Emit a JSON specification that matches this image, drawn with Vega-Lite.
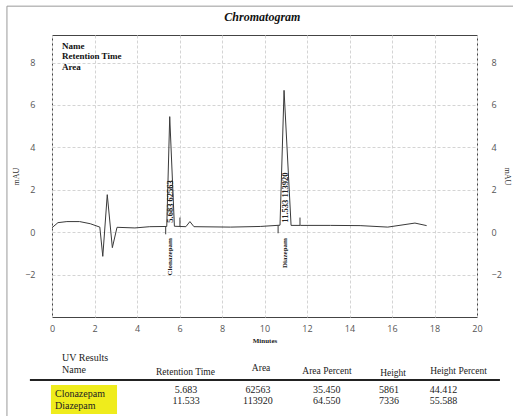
{
  "$schema": "https://vega.github.io/schema/vega-lite/v6.json",
  "width": 425,
  "height": 282,
  "autosize": {"type": "none"},
  "padding": {"left": 52, "top": 35, "right": 36, "bottom": 99},
  "background": "white",
  "config": {"view": {"stroke": "#444444", "strokeWidth": 1}},
  "datasets": {
    "trace": [
      {"t": 0, "mAU": 0.21}, {"t": 0.28, "mAU": 0.45}, {"t": 0.7, "mAU": 0.5}, {"t": 1.3, "mAU": 0.5},
      {"t": 1.8, "mAU": 0.4}, {"t": 2.25, "mAU": 0.24}, {"t": 2.39, "mAU": -1.14}, {"t": 2.6, "mAU": 1.77},
      {"t": 2.84, "mAU": -0.73}, {"t": 3.06, "mAU": 0.23}, {"t": 3.9, "mAU": 0.2}, {"t": 4.6, "mAU": 0.26},
      {"t": 5.4, "mAU": 0.27}, {"t": 5.54, "mAU": 5.45}, {"t": 5.76, "mAU": 0.28}, {"t": 6.3, "mAU": 0.26},
      {"t": 6.49, "mAU": 0.5}, {"t": 6.68, "mAU": 0.26}, {"t": 8.4, "mAU": 0.24}, {"t": 9.8, "mAU": 0.27},
      {"t": 10.73, "mAU": 0.33}, {"t": 10.92, "mAU": 6.69}, {"t": 11.25, "mAU": 0.32}, {"t": 11.7, "mAU": 0.32},
      {"t": 13.1, "mAU": 0.32}, {"t": 14.5, "mAU": 0.31}, {"t": 15.8, "mAU": 0.24}, {"t": 17.08, "mAU": 0.43},
      {"t": 17.63, "mAU": 0.31}
    ],
    "markers": [
      {"t": 5.35, "y1": 0.27, "y2": -0.1},
      {"t": 6.02, "y1": 0.27, "y2": 0.69},
      {"t": 10.64, "y1": 0.33, "y2": -0.05},
      {"t": 11.67, "y1": 0.33, "y2": 0.69}
    ],
    "peaks": [
      {"Name": "Clonazepam", "apex": 5.55, "label": "5.683  62563"},
      {"Name": "Diazepam", "apex": 10.98, "label": "11.533  113920"}
    ],
    "results": [
      {"Name": "Clonazepam", "Retention Time": "5.683", "Area": "62563", "Area Percent": "35.450", "Height": "5861", "Height Percent": "44.412"},
      {"Name": "Diazepam", "Retention Time": "11.533", "Area": "113920", "Area Percent": "64.550", "Height": "7336", "Height Percent": "55.588"}
    ]
  },
  "resolve": {"axis": {"x": "independent", "y": "independent"}},
  "layer": [
    {
      "data": {"values": [{}]},
      "mark": {"type": "rule", "color": "#9a9a9a", "strokeWidth": 1},
      "encoding": {
        "x": {"datum": -2.12, "type": "quantitative", "scale": {"domain": [0, 20], "nice": false, "zero": false}, "axis": null},
        "x2": {"datum": 21.8},
        "y": {"datum": 10.66, "type": "quantitative", "scale": {"domain": [-4, 9.3], "nice": false, "zero": false}, "axis": null}
      }
    },
    {
      "data": {"values": [{}]},
      "mark": {"type": "rule", "color": "#9a9a9a", "strokeWidth": 1},
      "encoding": {
        "x": {"datum": -2.12, "type": "quantitative", "scale": {"domain": [0, 20], "nice": false, "zero": false}, "axis": null},
        "y": {"datum": 10.66, "type": "quantitative", "scale": {"domain": [-4, 9.3], "nice": false, "zero": false}, "axis": null},
        "y2": {"datum": -8.8}
      }
    },
    {
      "data": {"name": "trace"},
      "mark": {"type": "line", "color": "#3a3a3a", "strokeWidth": 1},
      "encoding": {
        "x": {"field": "t", "type": "quantitative", "scale": {"domain": [0, 20], "nice": false, "zero": false},
          "axis": {"title": "Minutes", "values": [0, 2, 4, 6, 8, 10, 12, 14, 16, 18, 20], "grid": true, "gridColor": "#d4d4d4", "gridDash": [3, 2],
            "ticks": false, "tickSize": 0, "domain": false, "labelFont": "Open Sans", "labelFontSize": 9, "labelColor": "#555555",
            "labelPadding": 7, "labelFlush": false, "titleFont": "Liberation Serif", "titleFontSize": 7, "titleFontWeight": "bold",
            "titleColor": "#222222", "titlePadding": 3}},
        "y": {"field": "mAU", "type": "quantitative", "scale": {"domain": [-4, 9.3], "nice": false, "zero": false},
          "axis": {"title": "mAU", "orient": "left", "values": [-2, 0, 2, 4, 6, 8], "grid": true, "gridColor": "#d4d4d4", "gridDash": [3, 2],
            "ticks": false, "tickSize": 0, "domain": false, "labelFont": "Open Sans", "labelFontSize": 9, "labelColor": "#555555",
            "labelPadding": 17, "labelFlush": false, "titleFont": "Liberation Serif", "titleFontSize": 8, "titleFontWeight": "normal",
            "titleColor": "#333333", "titlePadding": 4}}
      }
    },
    {
      "data": {"name": "trace"},
      "mark": {"type": "line", "strokeOpacity": 0},
      "encoding": {
        "x": {"field": "t", "type": "quantitative", "scale": {"domain": [0, 20], "nice": false, "zero": false}, "axis": null},
        "y": {"field": "mAU", "type": "quantitative", "scale": {"domain": [-4, 9.3], "nice": false, "zero": false},
          "axis": {"title": "mAU", "orient": "right", "values": [-2, 0, 2, 4, 6, 8], "grid": false,
            "ticks": false, "tickSize": 0, "domain": false, "labelFont": "Open Sans", "labelFontSize": 9, "labelColor": "#555555",
            "labelPadding": 14, "labelFlush": false, "titleFont": "Liberation Serif", "titleFontSize": 8, "titleFontWeight": "normal",
            "titleColor": "#333333", "titlePadding": 1}}
      }
    },
    {
      "data": {"name": "markers"},
      "mark": {"type": "rule", "color": "#3a3a3a", "strokeWidth": 1},
      "encoding": {
        "x": {"field": "t", "type": "quantitative", "scale": {"domain": [0, 20], "nice": false, "zero": false}, "axis": null},
        "y": {"field": "y1", "type": "quantitative", "scale": {"domain": [-4, 9.3], "nice": false, "zero": false}, "axis": null},
        "y2": {"field": "y2"}
      }
    },
    {
      "data": {"name": "peaks"},
      "mark": {"type": "text", "angle": 270, "align": "left", "baseline": "middle", "font": "Liberation Serif", "fontSize": 8.5, "fontWeight": "bold", "color": "#222222"},
      "encoding": {
        "x": {"field": "apex", "type": "quantitative", "scale": {"domain": [0, 20], "nice": false, "zero": false}, "axis": null},
        "y": {"datum": 0.45, "type": "quantitative", "scale": {"domain": [-4, 9.3], "nice": false, "zero": false}, "axis": null},
        "text": {"field": "label"}
      }
    },
    {
      "data": {"name": "peaks"},
      "mark": {"type": "text", "angle": 270, "align": "right", "baseline": "middle", "font": "Liberation Serif", "fontSize": 7, "fontWeight": "bold", "color": "#222222"},
      "encoding": {
        "x": {"field": "apex", "type": "quantitative", "scale": {"domain": [0, 20], "nice": false, "zero": false}, "axis": null},
        "y": {"datum": -0.28, "type": "quantitative", "scale": {"domain": [-4, 9.3], "nice": false, "zero": false}, "axis": null},
        "text": {"field": "Name"}
      }
    },
    {
      "data": {"values": [{}]},
      "mark": {"type": "text", "align": "left", "baseline": "top", "font": "Liberation Serif", "fontSize": 9, "fontWeight": "bold", "lineHeight": 10.5, "color": "#111111"},
      "encoding": {
        "x": {"datum": 0.47, "type": "quantitative", "scale": {"domain": [0, 20], "nice": false, "zero": false}, "axis": null},
        "y": {"datum": 8.98, "type": "quantitative", "scale": {"domain": [-4, 9.3], "nice": false, "zero": false}, "axis": null},
        "text": {"value": ["Name", "Retention Time", "Area"]}
      }
    },
    {
      "data": {"values": [{}]},
      "mark": {"type": "text", "align": "center", "baseline": "middle", "font": "Liberation Serif", "fontSize": 12, "fontWeight": "bold", "fontStyle": "italic", "color": "#111111"},
      "encoding": {
        "x": {"datum": 9.9, "type": "quantitative", "scale": {"domain": [0, 20], "nice": false, "zero": false}, "axis": null},
        "y": {"datum": 10.14, "type": "quantitative", "scale": {"domain": [-4, 9.3], "nice": false, "zero": false}, "axis": null},
        "text": {"value": "Chromatogram"}
      }
    },
    {
      "data": {"values": [{}]},
      "mark": {"type": "rect", "color": "#efec1c"},
      "encoding": {
        "x": {"datum": -0.05, "type": "quantitative", "scale": {"domain": [0, 20], "nice": false, "zero": false}, "axis": null},
        "x2": {"datum": 3.06},
        "y": {"datum": -7.21, "type": "quantitative", "scale": {"domain": [-4, 9.3], "nice": false, "zero": false}, "axis": null},
        "y2": {"datum": -8.58}
      }
    },
    {
      "data": {"values": [{}]},
      "mark": {"type": "rule", "color": "#222222", "strokeWidth": 2},
      "encoding": {
        "x": {"datum": -1.04, "type": "quantitative", "scale": {"domain": [0, 20], "nice": false, "zero": false}, "axis": null},
        "x2": {"datum": 21.08},
        "y": {"datum": -6.97, "type": "quantitative", "scale": {"domain": [-4, 9.3], "nice": false, "zero": false}, "axis": null}
      }
    },
    {
      "data": {"values": [{}]},
      "mark": {"type": "text", "align": "left", "baseline": "middle", "font": "Liberation Serif", "fontSize": 10, "lineHeight": 12, "color": "#222222"},
      "encoding": {
        "x": {"datum": 0.47, "type": "quantitative", "scale": {"domain": [0, 20], "nice": false, "zero": false}, "axis": null},
        "y": {"datum": -5.93, "type": "quantitative", "scale": {"domain": [-4, 9.3], "nice": false, "zero": false}, "axis": null},
        "text": {"value": ["UV Results", "Name"]}
      }
    },
    {
      "data": {"values": [{}]},
      "mark": {"type": "text", "align": "center", "baseline": "middle", "font": "Liberation Serif", "fontSize": 9.5, "color": "#222222"},
      "encoding": {
        "x": {"datum": 6.28, "type": "quantitative", "scale": {"domain": [0, 20], "nice": false, "zero": false}, "axis": null},
        "y": {"datum": -6.6, "type": "quantitative", "scale": {"domain": [-4, 9.3], "nice": false, "zero": false}, "axis": null},
        "text": {"value": "Retention Time"}
      }
    },
    {
      "data": {"values": [{}]},
      "mark": {"type": "text", "align": "center", "baseline": "middle", "font": "Liberation Serif", "fontSize": 9.5, "color": "#222222"},
      "encoding": {
        "x": {"datum": 9.84, "type": "quantitative", "scale": {"domain": [0, 20], "nice": false, "zero": false}, "axis": null},
        "y": {"datum": -6.41, "type": "quantitative", "scale": {"domain": [-4, 9.3], "nice": false, "zero": false}, "axis": null},
        "text": {"value": "Area"}
      }
    },
    {
      "data": {"values": [{}]},
      "mark": {"type": "text", "align": "center", "baseline": "middle", "font": "Liberation Serif", "fontSize": 9.5, "color": "#222222"},
      "encoding": {
        "x": {"datum": 12.94, "type": "quantitative", "scale": {"domain": [0, 20], "nice": false, "zero": false}, "axis": null},
        "y": {"datum": -6.55, "type": "quantitative", "scale": {"domain": [-4, 9.3], "nice": false, "zero": false}, "axis": null},
        "text": {"value": "Area Percent"}
      }
    },
    {
      "data": {"values": [{}]},
      "mark": {"type": "text", "align": "center", "baseline": "middle", "font": "Liberation Serif", "fontSize": 9.5, "color": "#222222"},
      "encoding": {
        "x": {"datum": 16.05, "type": "quantitative", "scale": {"domain": [0, 20], "nice": false, "zero": false}, "axis": null},
        "y": {"datum": -6.64, "type": "quantitative", "scale": {"domain": [-4, 9.3], "nice": false, "zero": false}, "axis": null},
        "text": {"value": "Height"}
      }
    },
    {
      "data": {"values": [{}]},
      "mark": {"type": "text", "align": "center", "baseline": "middle", "font": "Liberation Serif", "fontSize": 9.5, "color": "#222222"},
      "encoding": {
        "x": {"datum": 19.13, "type": "quantitative", "scale": {"domain": [0, 20], "nice": false, "zero": false}, "axis": null},
        "y": {"datum": -6.55, "type": "quantitative", "scale": {"domain": [-4, 9.3], "nice": false, "zero": false}, "axis": null},
        "text": {"value": "Height Percent"}
      }
    },
    {
      "data": {"name": "results"},
      "mark": {"type": "text", "align": "left", "baseline": "middle", "font": "Liberation Serif", "fontSize": 10, "color": "#222222"},
      "encoding": {
        "x": {"datum": 0.14, "type": "quantitative", "scale": {"domain": [0, 20], "nice": false, "zero": false}, "axis": null},
        "y": {"datum": -7.64, "type": "quantitative", "scale": {"domain": [-4, 9.3], "nice": false, "zero": false}, "axis": null},
        "yOffset": {"field": "Name", "type": "nominal", "sort": ["Clonazepam", "Diazepam"], "scale": {"type": "point", "range": [0, 11.5], "padding": 0}},
        "text": {"field": "Name"}
      }
    },
    {
      "data": {"name": "results"},
      "mark": {"type": "text", "align": "center", "baseline": "middle", "font": "Liberation Serif", "fontSize": 10, "color": "#222222"},
      "encoding": {
        "x": {"datum": 6.31, "type": "quantitative", "scale": {"domain": [0, 20], "nice": false, "zero": false}, "axis": null},
        "y": {"datum": -7.42, "type": "quantitative", "scale": {"domain": [-4, 9.3], "nice": false, "zero": false}, "axis": null},
        "yOffset": {"field": "Name", "type": "nominal", "sort": ["Clonazepam", "Diazepam"], "scale": {"type": "point", "range": [0, 11.5], "padding": 0}},
        "text": {"field": "Retention Time"}
      }
    },
    {
      "data": {"name": "results"},
      "mark": {"type": "text", "align": "center", "baseline": "middle", "font": "Liberation Serif", "fontSize": 10, "color": "#222222"},
      "encoding": {
        "x": {"datum": 9.69, "type": "quantitative", "scale": {"domain": [0, 20], "nice": false, "zero": false}, "axis": null},
        "y": {"datum": -7.42, "type": "quantitative", "scale": {"domain": [-4, 9.3], "nice": false, "zero": false}, "axis": null},
        "yOffset": {"field": "Name", "type": "nominal", "sort": ["Clonazepam", "Diazepam"], "scale": {"type": "point", "range": [0, 11.5], "padding": 0}},
        "text": {"field": "Area"}
      }
    },
    {
      "data": {"name": "results"},
      "mark": {"type": "text", "align": "center", "baseline": "middle", "font": "Liberation Serif", "fontSize": 10, "color": "#222222"},
      "encoding": {
        "x": {"datum": 12.93, "type": "quantitative", "scale": {"domain": [0, 20], "nice": false, "zero": false}, "axis": null},
        "y": {"datum": -7.42, "type": "quantitative", "scale": {"domain": [-4, 9.3], "nice": false, "zero": false}, "axis": null},
        "yOffset": {"field": "Name", "type": "nominal", "sort": ["Clonazepam", "Diazepam"], "scale": {"type": "point", "range": [0, 11.5], "padding": 0}},
        "text": {"field": "Area Percent"}
      }
    },
    {
      "data": {"name": "results"},
      "mark": {"type": "text", "align": "center", "baseline": "middle", "font": "Liberation Serif", "fontSize": 10, "color": "#222222"},
      "encoding": {
        "x": {"datum": 15.86, "type": "quantitative", "scale": {"domain": [0, 20], "nice": false, "zero": false}, "axis": null},
        "y": {"datum": -7.42, "type": "quantitative", "scale": {"domain": [-4, 9.3], "nice": false, "zero": false}, "axis": null},
        "yOffset": {"field": "Name", "type": "nominal", "sort": ["Clonazepam", "Diazepam"], "scale": {"type": "point", "range": [0, 11.5], "padding": 0}},
        "text": {"field": "Height"}
      }
    },
    {
      "data": {"name": "results"},
      "mark": {"type": "text", "align": "center", "baseline": "middle", "font": "Liberation Serif", "fontSize": 10, "color": "#222222"},
      "encoding": {
        "x": {"datum": 18.42, "type": "quantitative", "scale": {"domain": [0, 20], "nice": false, "zero": false}, "axis": null},
        "y": {"datum": -7.42, "type": "quantitative", "scale": {"domain": [-4, 9.3], "nice": false, "zero": false}, "axis": null},
        "yOffset": {"field": "Name", "type": "nominal", "sort": ["Clonazepam", "Diazepam"], "scale": {"type": "point", "range": [0, 11.5], "padding": 0}},
        "text": {"field": "Height Percent"}
      }
    }
  ]
}
